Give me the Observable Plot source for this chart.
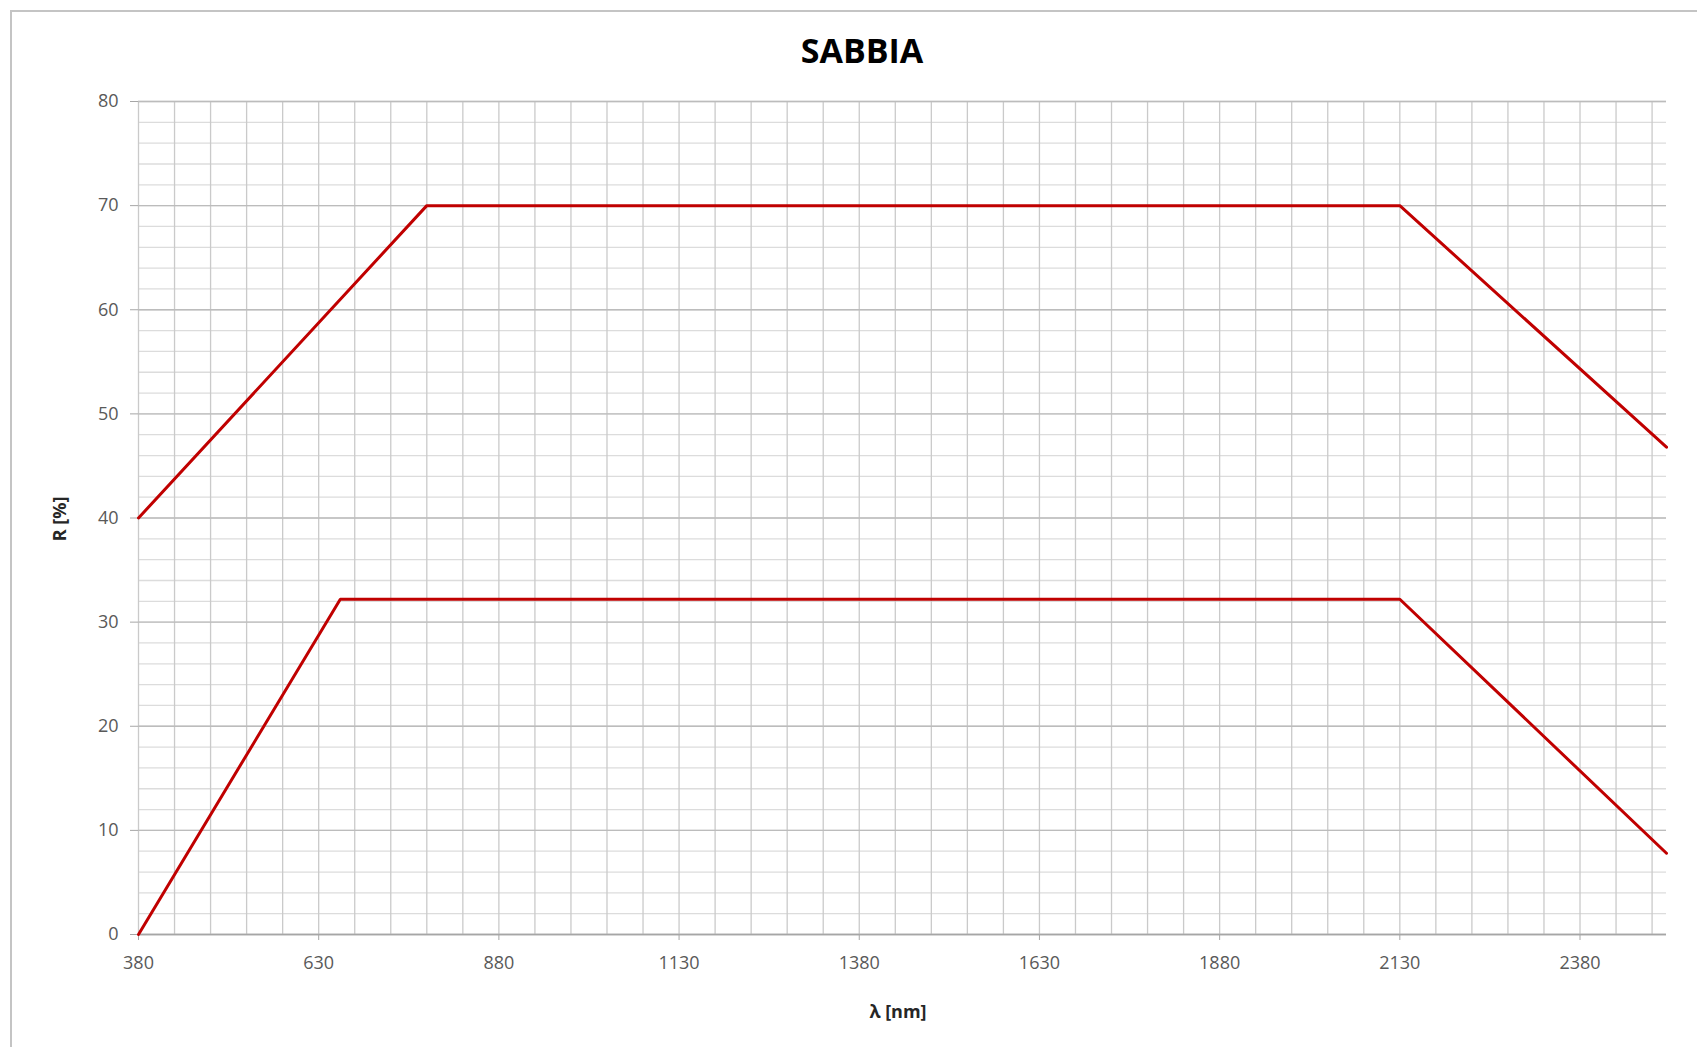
<!DOCTYPE html>
<html><head><meta charset="utf-8">
<script src="https://cdn.jsdelivr.net/npm/d3@7"></script>
<script src="https://cdn.jsdelivr.net/npm/@observablehq/plot@0.6"></script>
<style>
html,body{margin:0;padding:0;background:#fff;}
#wrap{position:relative;width:1697px;height:1047px;overflow:hidden;font-family:"Open Sans",sans-serif;}
#frame{position:absolute;left:10px;top:10px;width:1720px;height:1080px;border-top:2px solid #c4c4c4;border-left:2px solid #c4c4c4;}
#chart{position:absolute;left:0;top:0;}
#title{position:absolute;left:862px;top:50px;transform:translate(-50%,-50%);font-weight:700;font-size:34px;color:#000;white-space:nowrap;}
#xlabel{position:absolute;left:898px;top:1011px;transform:translate(-50%,-50%);font-weight:700;font-size:18px;color:#262626;white-space:nowrap;}
#ylabel{position:absolute;left:59px;top:519px;transform:translate(-50%,-50%) rotate(-90deg);font-weight:700;font-size:18px;color:#262626;white-space:nowrap;}
</style></head><body>
<div id="wrap">
  <div id="frame"></div>
  <div id="chart"></div>
  <div id="title">SABBIA</div>
  <div id="xlabel">λ [nm]</div>
  <div id="ylabel">R [%]</div>
</div>
<script>
// Data
const upperWavelength = [380, 780, 2130, 2500];
const upperReflectance = [40, 70, 70, 46.8];
const lowerWavelength = [380, 660, 2130, 2500];
const lowerReflectance = [0, 32.2, 32.2, 7.8];
// Tick labels
const xTickLabels = [380, 630, 880, 1130, 1380, 1630, 1880, 2130, 2380];
const yTickLabels = [0, 10, 20, 30, 40, 50, 60, 70, 80];
const xDomain = [380, 2500];
const yDomain = [0, 80];

const rows = [
  ...upperWavelength.map((w, i) => ({w, r: upperReflectance[i], s: "upper"})),
  ...lowerWavelength.map((w, i) => ({w, r: lowerReflectance[i], s: "lower"}))
];
const xGrid = d3.range(380, 2500, 50);
const yMinor = d3.range(0, 81, 2);

const plot = Plot.plot({
  width: 1697, height: 1047,
  marginLeft: 138, marginRight: 31, marginTop: 101, marginBottom: 113,
  x: {domain: xDomain, label: null},
  y: {domain: yDomain, label: null},
  style: {fontFamily: '"Open Sans", sans-serif', fontSize: "18px", background: "transparent", overflow: "visible"},
  marks: [
    Plot.ruleY(yMinor, {stroke: "#dcdcdc", strokeWidth: 1.3}),
    Plot.ruleX(xGrid, {stroke: "#cacaca", strokeWidth: 1.3}),
    Plot.ruleY(yTickLabels, {stroke: "#bcbcbc", strokeWidth: 1.3}),
    Plot.ruleY([0], {stroke: "#a6a6a6", strokeWidth: 1.6}),
    Plot.axisX({ticks: xTickLabels, tickSize: 6, tickPadding: 16, stroke: "#a6a6a6", fill: "#595959", label: null, tickFormat: d => String(d)}),
    Plot.axisY({ticks: yTickLabels, tickSize: 8, tickPadding: 12, stroke: "#a6a6a6", fill: "#595959", label: null}),
    Plot.line(rows, {x: "w", y: "r", z: "s", stroke: "#c00000", strokeWidth: 3, strokeLinejoin: "miter"})
  ]
});
document.getElementById("chart").appendChild(plot);
</script>
</body></html>
